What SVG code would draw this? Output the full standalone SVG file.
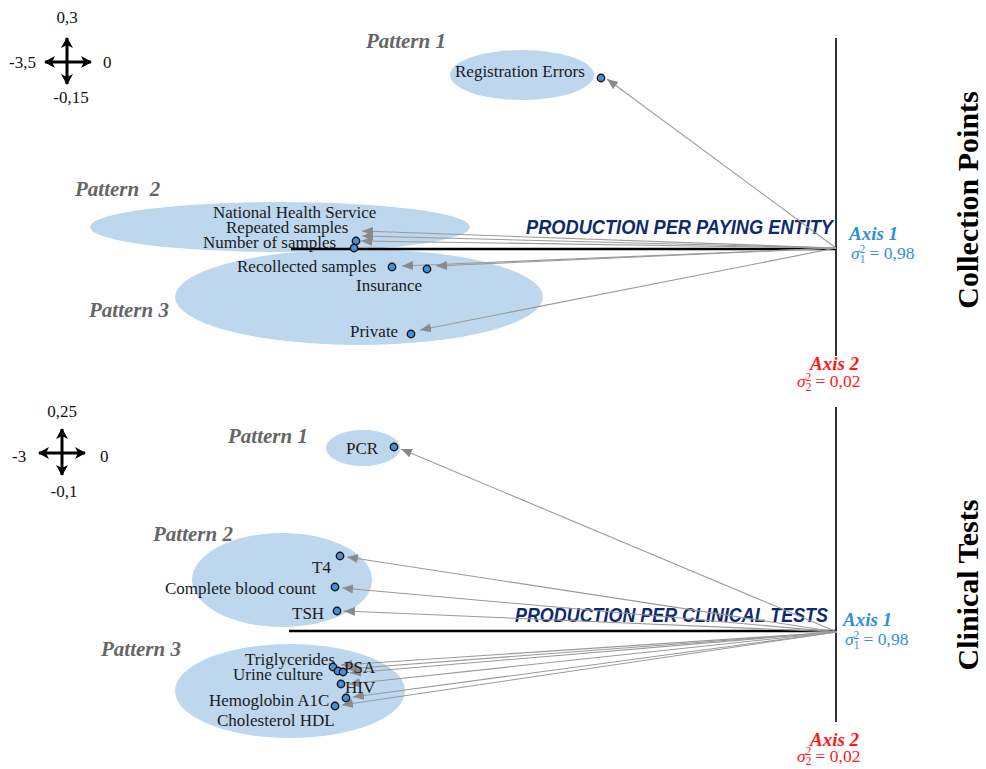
<svg xmlns="http://www.w3.org/2000/svg" width="986" height="769" viewBox="0 0 986 769">
<defs>
<marker id="ah" markerUnits="userSpaceOnUse" markerWidth="12" markerHeight="10" refX="11" refY="4.5" orient="auto"><path d="M0,0 L11,4.5 L0,9 z" fill="#8a8a8a"/></marker>
<marker id="ck" markerUnits="userSpaceOnUse" markerWidth="13" markerHeight="13" refX="10" refY="6" orient="auto-start-reverse"><path d="M0,0 L11,6 L0,12 L3,6 z" fill="#000"/></marker>
<style>
.ell{fill:#bdd7ee}
.lbl{font-family:"Liberation Serif",serif;font-size:17px;fill:#1a1a1a}
.pat{font-family:"Liberation Serif",serif;font-size:21px;font-weight:bold;font-style:italic;fill:#666}
.dot{fill:#4a90d9;stroke:#111;stroke-width:1.4}
.conn line{stroke:#9a9a9a;stroke-width:1.1;marker-end:url(#ah)}
.ax{stroke:#000;stroke-width:1.6}
.axh{stroke:#000;stroke-width:2.4}
.prod{font-family:"Liberation Sans",sans-serif;font-size:20px;font-weight:bold;font-style:italic;fill:#0e2a6e}
.a1{font-family:"Liberation Serif",serif;font-size:19px;font-weight:bold;font-style:italic;fill:#2f8fdc}
.s1{font-family:"Liberation Serif",serif;font-size:17.5px;fill:#2f8fdc}
.a2{font-family:"Liberation Serif",serif;font-size:19px;font-weight:bold;font-style:italic;fill:#ff1a1a}
.s2{font-family:"Liberation Serif",serif;font-size:17.5px;fill:#ff1a1a}
.side{font-family:"Liberation Serif",serif;font-size:30px;font-weight:bold;fill:#000}
.cmp{stroke:#000;stroke-width:3;marker-start:url(#ck);marker-end:url(#ck)}
.ct{font-family:"Liberation Serif",serif;font-size:17px;fill:#111}
</style>
</defs>

<!-- ===== TOP PANEL: Collection Points ===== -->
<g id="compass-top">
<line class="cmp" x1="67" y1="38" x2="67" y2="84"/>
<line class="cmp" x1="45" y1="62" x2="91" y2="62"/>
<text class="ct" x="67" y="23" text-anchor="middle">0,3</text>
<text class="ct" x="9" y="68">-3,5</text>
<text class="ct" x="103" y="68">0</text>
<text class="ct" x="71" y="103" text-anchor="middle">-0,15</text>
</g>

<g id="axes-top">
<line class="ax" x1="836" y1="38" x2="836" y2="356"/>
</g>

<g id="pattern1-top">
<ellipse class="ell" cx="522" cy="75" rx="72" ry="25"/>
<text class="pat" x="366" y="48">Pattern 1</text>
<text class="lbl" x="455" y="77">Registration Errors</text>
</g>

<g id="pattern2-top">
<ellipse class="ell" cx="280" cy="227" rx="190" ry="25"/>
<text class="pat" x="75" y="196" xml:space="preserve">Pattern  2</text>
</g>

<g id="pattern3-top">
<ellipse class="ell" cx="359" cy="297" rx="184" ry="48"/>
<text class="pat" x="89" y="317">Pattern 3</text>
</g>

<g id="axis-line-top">
<line class="axh" x1="291" y1="249" x2="836" y2="249"/>
</g>

<g id="prod-top">
<text class="prod" x="526" y="234" textLength="307" lengthAdjust="spacingAndGlyphs">PRODUCTION PER PAYING ENTITY</text>
</g>

<g id="axis1-top">
<text class="a1" x="849" y="240">Axis 1</text>
<text class="s1" x="851" y="259"><tspan font-style="italic">σ</tspan><tspan font-size="11.5" dy="4">1</tspan><tspan font-size="11.5" dx="-6" dy="-10">2</tspan><tspan dy="6"> = 0,98</tspan></text>
</g>
<g id="axis2-top">
<text class="a2" x="810" y="370">Axis 2</text>
<text class="s2" x="797" y="387"><tspan font-style="italic">σ</tspan><tspan font-size="11.5" dy="4">2</tspan><tspan font-size="11.5" dx="-6" dy="-10">2</tspan><tspan dy="6"> = 0,02</tspan></text>
</g>

<g id="connectors-top" class="conn">
<line x1="836" y1="248" x2="607" y2="79"/>
<line x1="836" y1="248" x2="362" y2="231"/>
<line x1="836" y1="248" x2="362" y2="236"/>
<line x1="836" y1="248" x2="361" y2="241"/>
<line x1="836" y1="248" x2="402" y2="266"/>
<line x1="836" y1="248" x2="436" y2="266"/>
<line x1="836" y1="248" x2="420" y2="330"/>
</g>

<g id="node-registration"><circle class="dot" cx="601" cy="78" r="3.7"/></g>
<g id="node-nhs"><text class="lbl" x="213" y="218">National Health Service</text></g>
<g id="node-repeated"><text class="lbl" x="226" y="233">Repeated samples</text><circle class="dot" cx="356" cy="241" r="3.7"/></g>
<g id="node-number"><text class="lbl" x="203" y="248">Number of samples</text><circle class="dot" cx="354" cy="248" r="3.7"/></g>
<g id="node-recollected"><text class="lbl" x="237" y="272">Recollected samples</text><circle class="dot" cx="392" cy="267" r="3.7"/></g>
<g id="node-insurance"><text class="lbl" x="356" y="291">Insurance</text><circle class="dot" cx="427" cy="269" r="3.7"/></g>
<g id="node-private"><text class="lbl" x="350" y="337">Private</text><circle class="dot" cx="411" cy="334" r="3.7"/></g>

<g id="side-top"><text class="side" transform="translate(978,200) rotate(-90)" text-anchor="middle">Collection Points</text></g>

<!-- ===== BOTTOM PANEL: Clinical Tests ===== -->
<g id="compass-bottom">
<line class="cmp" x1="62" y1="429" x2="62" y2="475"/>
<line class="cmp" x1="39" y1="453" x2="85" y2="453"/>
<text class="ct" x="62" y="417" text-anchor="middle">0,25</text>
<text class="ct" x="12" y="462">-3</text>
<text class="ct" x="100" y="462">0</text>
<text class="ct" x="64" y="497" text-anchor="middle">-0,1</text>
</g>

<g id="axes-bottom">
<line class="ax" x1="836" y1="407" x2="836" y2="722"/>
</g>

<g id="pattern1-bottom">
<ellipse class="ell" cx="363" cy="448" rx="37" ry="18"/>
<text class="pat" x="228" y="443">Pattern 1</text>
</g>
<g id="pattern2-bottom">
<ellipse class="ell" cx="282" cy="580" rx="90" ry="47"/>
<text class="pat" x="153" y="541">Pattern 2</text>
</g>
<g id="pattern3-bottom">
<ellipse class="ell" cx="290" cy="691" rx="115" ry="47"/>
<text class="pat" x="101" y="656">Pattern 3</text>
</g>

<g id="axis-line-bottom">
<line class="axh" x1="289" y1="631" x2="836" y2="631"/>
</g>

<g id="prod-bottom">
<text class="prod" x="515" y="622" textLength="313" lengthAdjust="spacingAndGlyphs">PRODUCTION PER CLINICAL TESTS</text>
</g>

<g id="axis1-bottom">
<text class="a1" x="843" y="626">Axis 1</text>
<text class="s1" x="845" y="645"><tspan font-style="italic">σ</tspan><tspan font-size="11.5" dy="4">1</tspan><tspan font-size="11.5" dx="-6" dy="-10">2</tspan><tspan dy="6"> = 0,98</tspan></text>
</g>
<g id="axis2-bottom">
<text class="a2" x="810" y="746">Axis 2</text>
<text class="s2" x="797" y="762"><tspan font-style="italic">σ</tspan><tspan font-size="11.5" dy="3">2</tspan><tspan font-size="11.5" dx="-6" dy="-10">2</tspan><tspan dy="7"> = 0,02</tspan></text>
</g>

<g id="connectors-bottom" class="conn">
<line x1="837" y1="632" x2="401" y2="449"/>
<line x1="837" y1="632" x2="347" y2="557"/>
<line x1="837" y1="632" x2="342" y2="588"/>
<line x1="837" y1="632" x2="344" y2="611"/>
<line x1="837" y1="632" x2="341" y2="665"/>
<line x1="837" y1="632" x2="346" y2="669"/>
<line x1="837" y1="632" x2="350" y2="673"/>
<line x1="837" y1="632" x2="349" y2="684"/>
<line x1="837" y1="632" x2="353" y2="697"/>
<line x1="837" y1="632" x2="342" y2="705"/>
</g>

<g id="node-pcr"><text class="lbl" x="346" y="454">PCR</text><circle class="dot" cx="394" cy="447" r="3.7"/></g>
<g id="node-t4"><text class="lbl" x="312" y="573">T4</text><circle class="dot" cx="340" cy="556" r="3.7"/></g>
<g id="node-cbc"><text class="lbl" x="165" y="594">Complete blood count</text><circle class="dot" cx="335" cy="587" r="3.7"/></g>
<g id="node-tsh"><text class="lbl" x="292" y="619">TSH</text><circle class="dot" cx="337" cy="611" r="3.7"/></g>
<g id="node-trig"><text class="lbl" x="245" y="665">Triglycerides</text><circle class="dot" cx="333" cy="667" r="3.7"/></g>
<g id="node-urine"><text class="lbl" x="233" y="680">Urine culture</text><circle class="dot" cx="338" cy="671" r="3.7"/></g>
<g id="node-psa"><text class="lbl" x="344" y="673">PSA</text><circle class="dot" cx="343" cy="672" r="3.7"/></g>
<g id="node-hiv"><text class="lbl" x="345" y="693">HIV</text><circle class="dot" cx="341" cy="684" r="3.7"/></g>
<g id="node-hba1c"><text class="lbl" x="209" y="706">Hemoglobin A1C</text><circle class="dot" cx="346" cy="698" r="3.7"/></g>
<g id="node-hdl"><text class="lbl" x="217" y="726">Cholesterol HDL</text><circle class="dot" cx="335" cy="706" r="3.7"/></g>

<g id="side-bottom"><text class="side" transform="translate(978,585) rotate(-90)" text-anchor="middle">Clinical Tests</text></g>
</svg>
